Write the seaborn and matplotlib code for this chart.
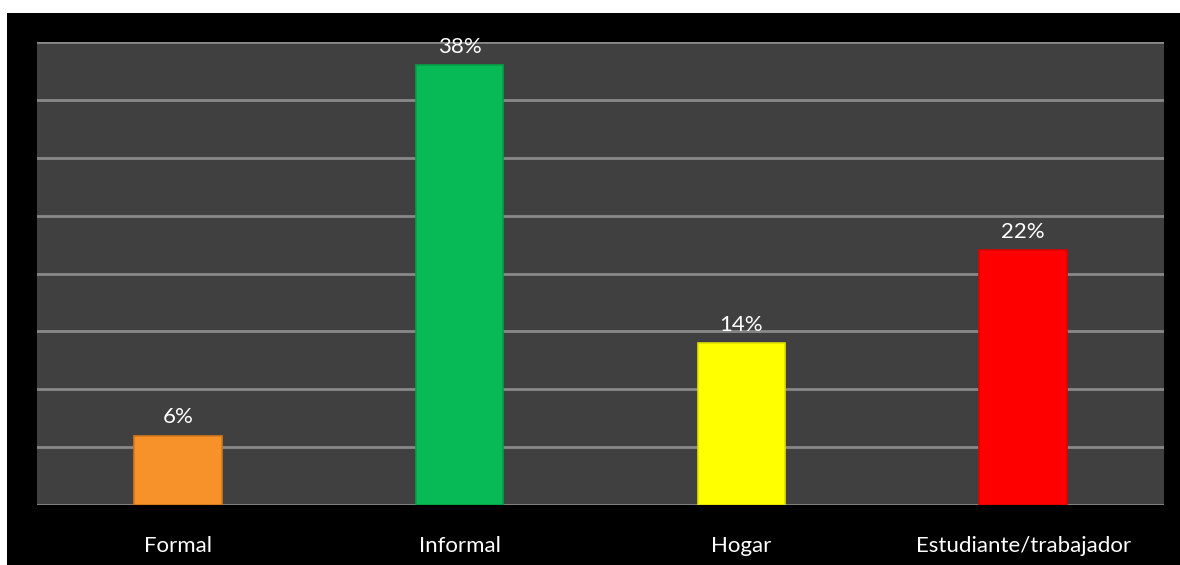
import matplotlib
matplotlib.use("Agg")
import matplotlib.pyplot as plt
import pandas as pd
import seaborn as sns
from matplotlib.patches import Rectangle

categories = ["Formal", "Informal", "Hogar", "Estudiante/trabajador"]
values = [6, 38, 14, 22]
colors = ["#F7922A", "#08BA55", "#FFFF00", "#FF0000"]
edges = ["#D47818", "#05A046", "#E0E000", "#E00000"]

df = pd.DataFrame({"cat": categories, "val": values})

sns.set_style("dark")
plt.rcParams["font.family"] = ["Lato", "DejaVu Sans"]

fig = plt.figure(figsize=(11.8, 5.65), dpi=100, facecolor="white")
fig.patches.append(Rectangle((7 / 1180, 0), 1, (565 - 13) / 565,
                             transform=fig.transFigure, facecolor="black",
                             edgecolor="none", zorder=-10))
ax = fig.add_axes([37 / 1180, 60 / 565, 1127 / 1180, 463 / 565])
ax.set_facecolor("#404040")

sns.barplot(data=df, x="cat", y="val", hue="cat", palette=colors,
            saturation=1, width=0.31, legend=False, ax=ax, zorder=3)
for p, ec in zip(ax.patches, edges):
    p.set_edgecolor(ec)
    p.set_linewidth(1.2)

ax.set_ylim(0, 40)
ax.set_yticks(range(0, 45, 5))
ax.set_yticklabels([])
ax.tick_params(axis="y", length=0)
ax.tick_params(axis="x", length=0, pad=22, labelsize=16, colors="white")
ax.grid(axis="y", color="#888888", linewidth=2, zorder=0)
ax.grid(axis="x", visible=False)
for s in ax.spines.values():
    s.set_visible(False)
ax.set_xlabel("")
ax.set_ylabel("")

for i, v in enumerate(values):
    ax.annotate(f"{v}%", (i, v), xytext=(0, 6), textcoords="offset points",
                ha="center", va="bottom", color="white", fontsize=16)

fig.savefig("out.png", dpi=100, facecolor=fig.get_facecolor())
